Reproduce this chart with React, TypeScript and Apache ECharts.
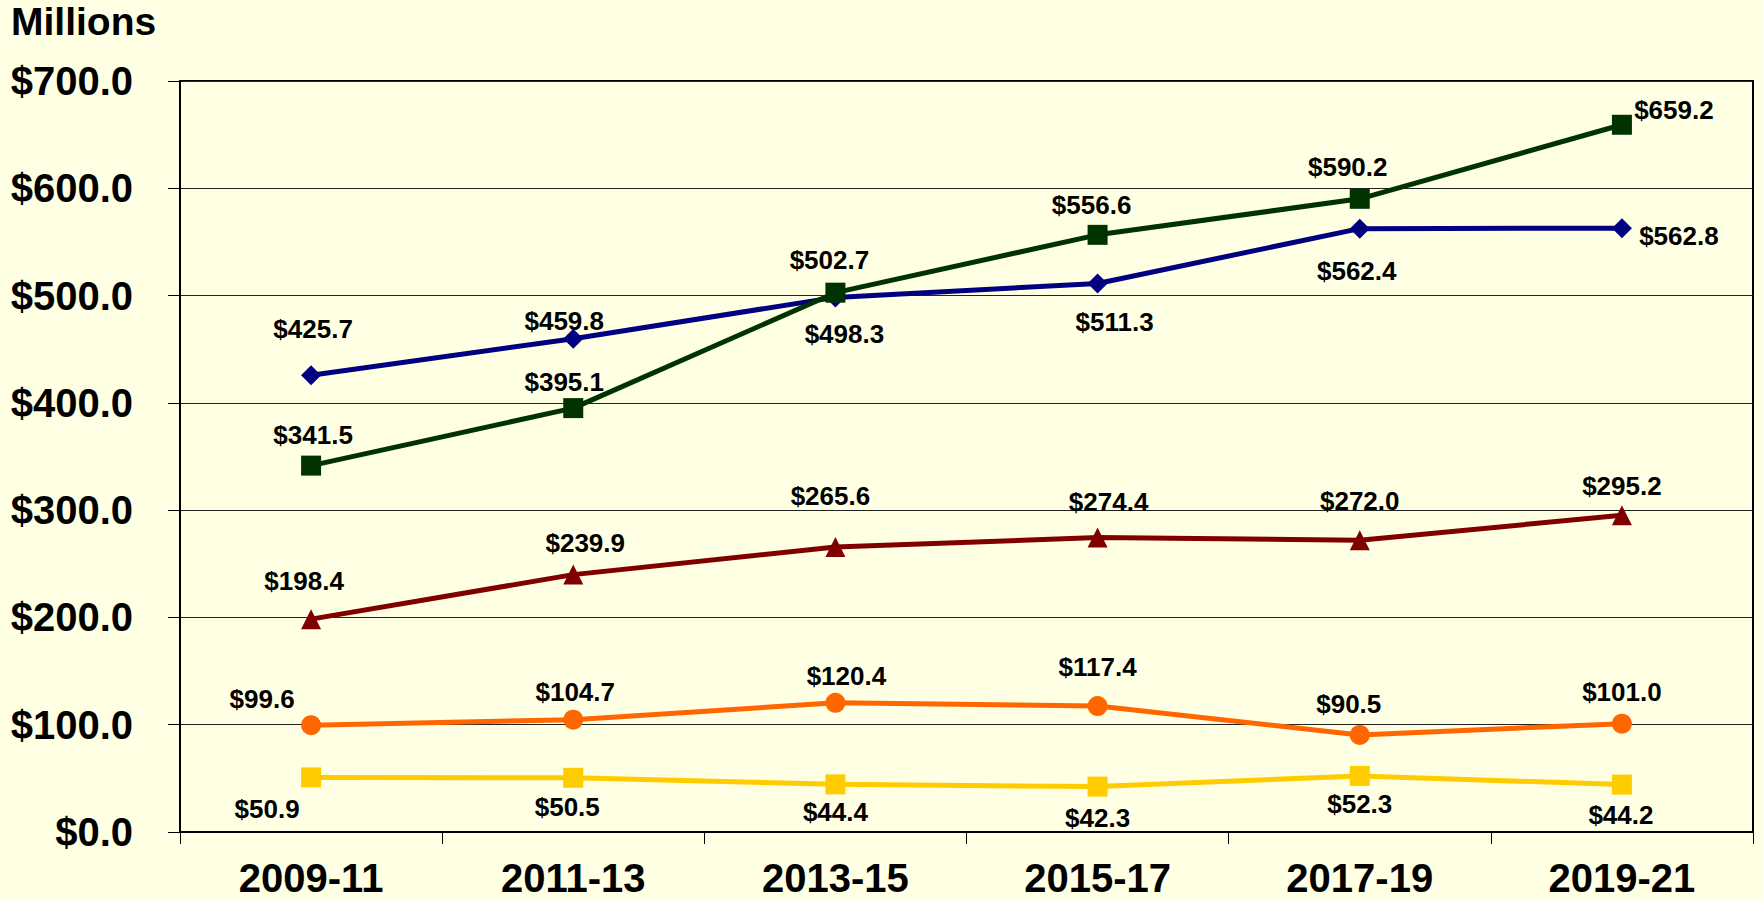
import React, { useEffect, useRef } from "react";
import * as echarts from "echarts";

const categories = ["2009-11", "2011-13", "2013-15", "2015-17", "2017-19", "2019-21"];
const blueValues = [425.7, 459.8, 498.3, 511.3, 562.4, 562.8];
const greenValues = [341.5, 395.1, 502.7, 556.6, 590.2, 659.2];
const redValues = [198.4, 239.9, 265.6, 274.4, 272.0, 295.2];
const orangeValues = [99.6, 104.7, 120.4, 117.4, 90.5, 101.0];
const yellowValues = [50.9, 50.5, 44.4, 42.3, 52.3, 44.2];
const yTicks = [0, 100, 200, 300, 400, 500, 600, 700];

// label placement offsets (layout only)
const blueOffsets = [[2, -46], [-9, -18], [9, 37], [17, 39], [-3, 42], [57, 8]];
const greenOffsets = [[2, -31], [-9, -26], [-6, -33], [-6, -30], [-12, -32], [52, -15]];
const redOffsets = [[-7, -38], [12, -32], [-5, -51], [11, -36], [0, -39], [0, -29]];
const orangeOffsets = [[-49, -26], [2, -28], [11, -27], [0, -39], [-11, -31], [0, -32]];
const yellowOffsets = [[-44, 32], [-6, 29], [0, 28], [0, 31], [0, 28], [-1, 30]];

const FONT = "'Liberation Sans', Arial, sans-serif";

function mkSeries(name: string, values: number[], offsets: number[][], color: string, symbol: string, width: number) {
  return {
    name,
    type: "line",
    symbol,
    symbolSize: 20,
    lineStyle: { color, width },
    itemStyle: { color },
    data: values.map((v, i) => ({
      value: v,
      label: { offset: offsets[i] },
    })),
    label: {
      show: true,
      position: "inside",
      align: "center",
      verticalAlign: "middle",
      formatter: (p: any) => "$" + Number(p.value).toFixed(1),
      fontSize: 26,
      fontWeight: "bold",
      fontFamily: FONT,
      color: "#000",
    },
  };
}

export default function App() {
  const ref = useRef<HTMLDivElement>(null);
  useEffect(() => {
    if (!ref.current) return;
    const chart = echarts.init(ref.current, undefined, { renderer: "svg" });
    chart.setOption({
      animation: false,
      backgroundColor: "#FFFFE3",
      textStyle: { fontFamily: FONT },
      grid: {
        left: 180,
        right: 10,
        top: 81,
        bottom: 68,
        show: true,
        borderColor: "#000",
        borderWidth: 2,
        backgroundColor: "transparent",
      },
      graphic: [
        {
          type: "text",
          left: 11,
          top: 2,
          style: {
            text: "Millions",
            fontSize: 39,
            fontWeight: "bold",
            fontFamily: FONT,
            fill: "#000",
          },
        },
      ],
      xAxis: {
        type: "category",
        data: categories,
        boundaryGap: true,
        axisLine: { lineStyle: { color: "#000", width: 2 } },
        axisTick: { show: true, length: 12, alignWithLabel: false, lineStyle: { color: "#000", width: 1 } },
        axisLabel: {
          fontSize: 40,
          fontWeight: "bold",
          fontFamily: FONT,
          color: "#000",
          margin: 26,
        },
        splitLine: { show: false },
      },
      yAxis: {
        type: "value",
        min: 0,
        max: 700,
        interval: 100,
        axisLine: { show: true, lineStyle: { color: "#000", width: 2 } },
        axisTick: { show: true, length: 12, lineStyle: { color: "#000", width: 1 } },
        axisLabel: {
          fontSize: 40,
          fontWeight: "bold",
          fontFamily: FONT,
          color: "#000",
          margin: 47,
          formatter: (v: number) => (yTicks.includes(v) ? "$" + v.toFixed(1) : ""),
        },
        splitLine: { show: true, lineStyle: { color: "#222", width: 1 } },
      },
      series: [
        mkSeries("blue", blueValues, blueOffsets, "#000080", "diamond", 5),
        mkSeries("green", greenValues, greenOffsets, "#003300", "rect", 5),
        mkSeries("red", redValues, redOffsets, "#800000", "triangle", 5),
        mkSeries("orange", orangeValues, orangeOffsets, "#FF6600", "circle", 5),
        mkSeries("yellow", yellowValues, yellowOffsets, "#FFCC00", "rect", 5),
      ],
    });
    return () => chart.dispose();
  }, []);
  return (
    <div
      ref={ref}
      style={{ position: "absolute", left: 0, top: 0, width: 1763, height: 900 }}
    />
  );
}
